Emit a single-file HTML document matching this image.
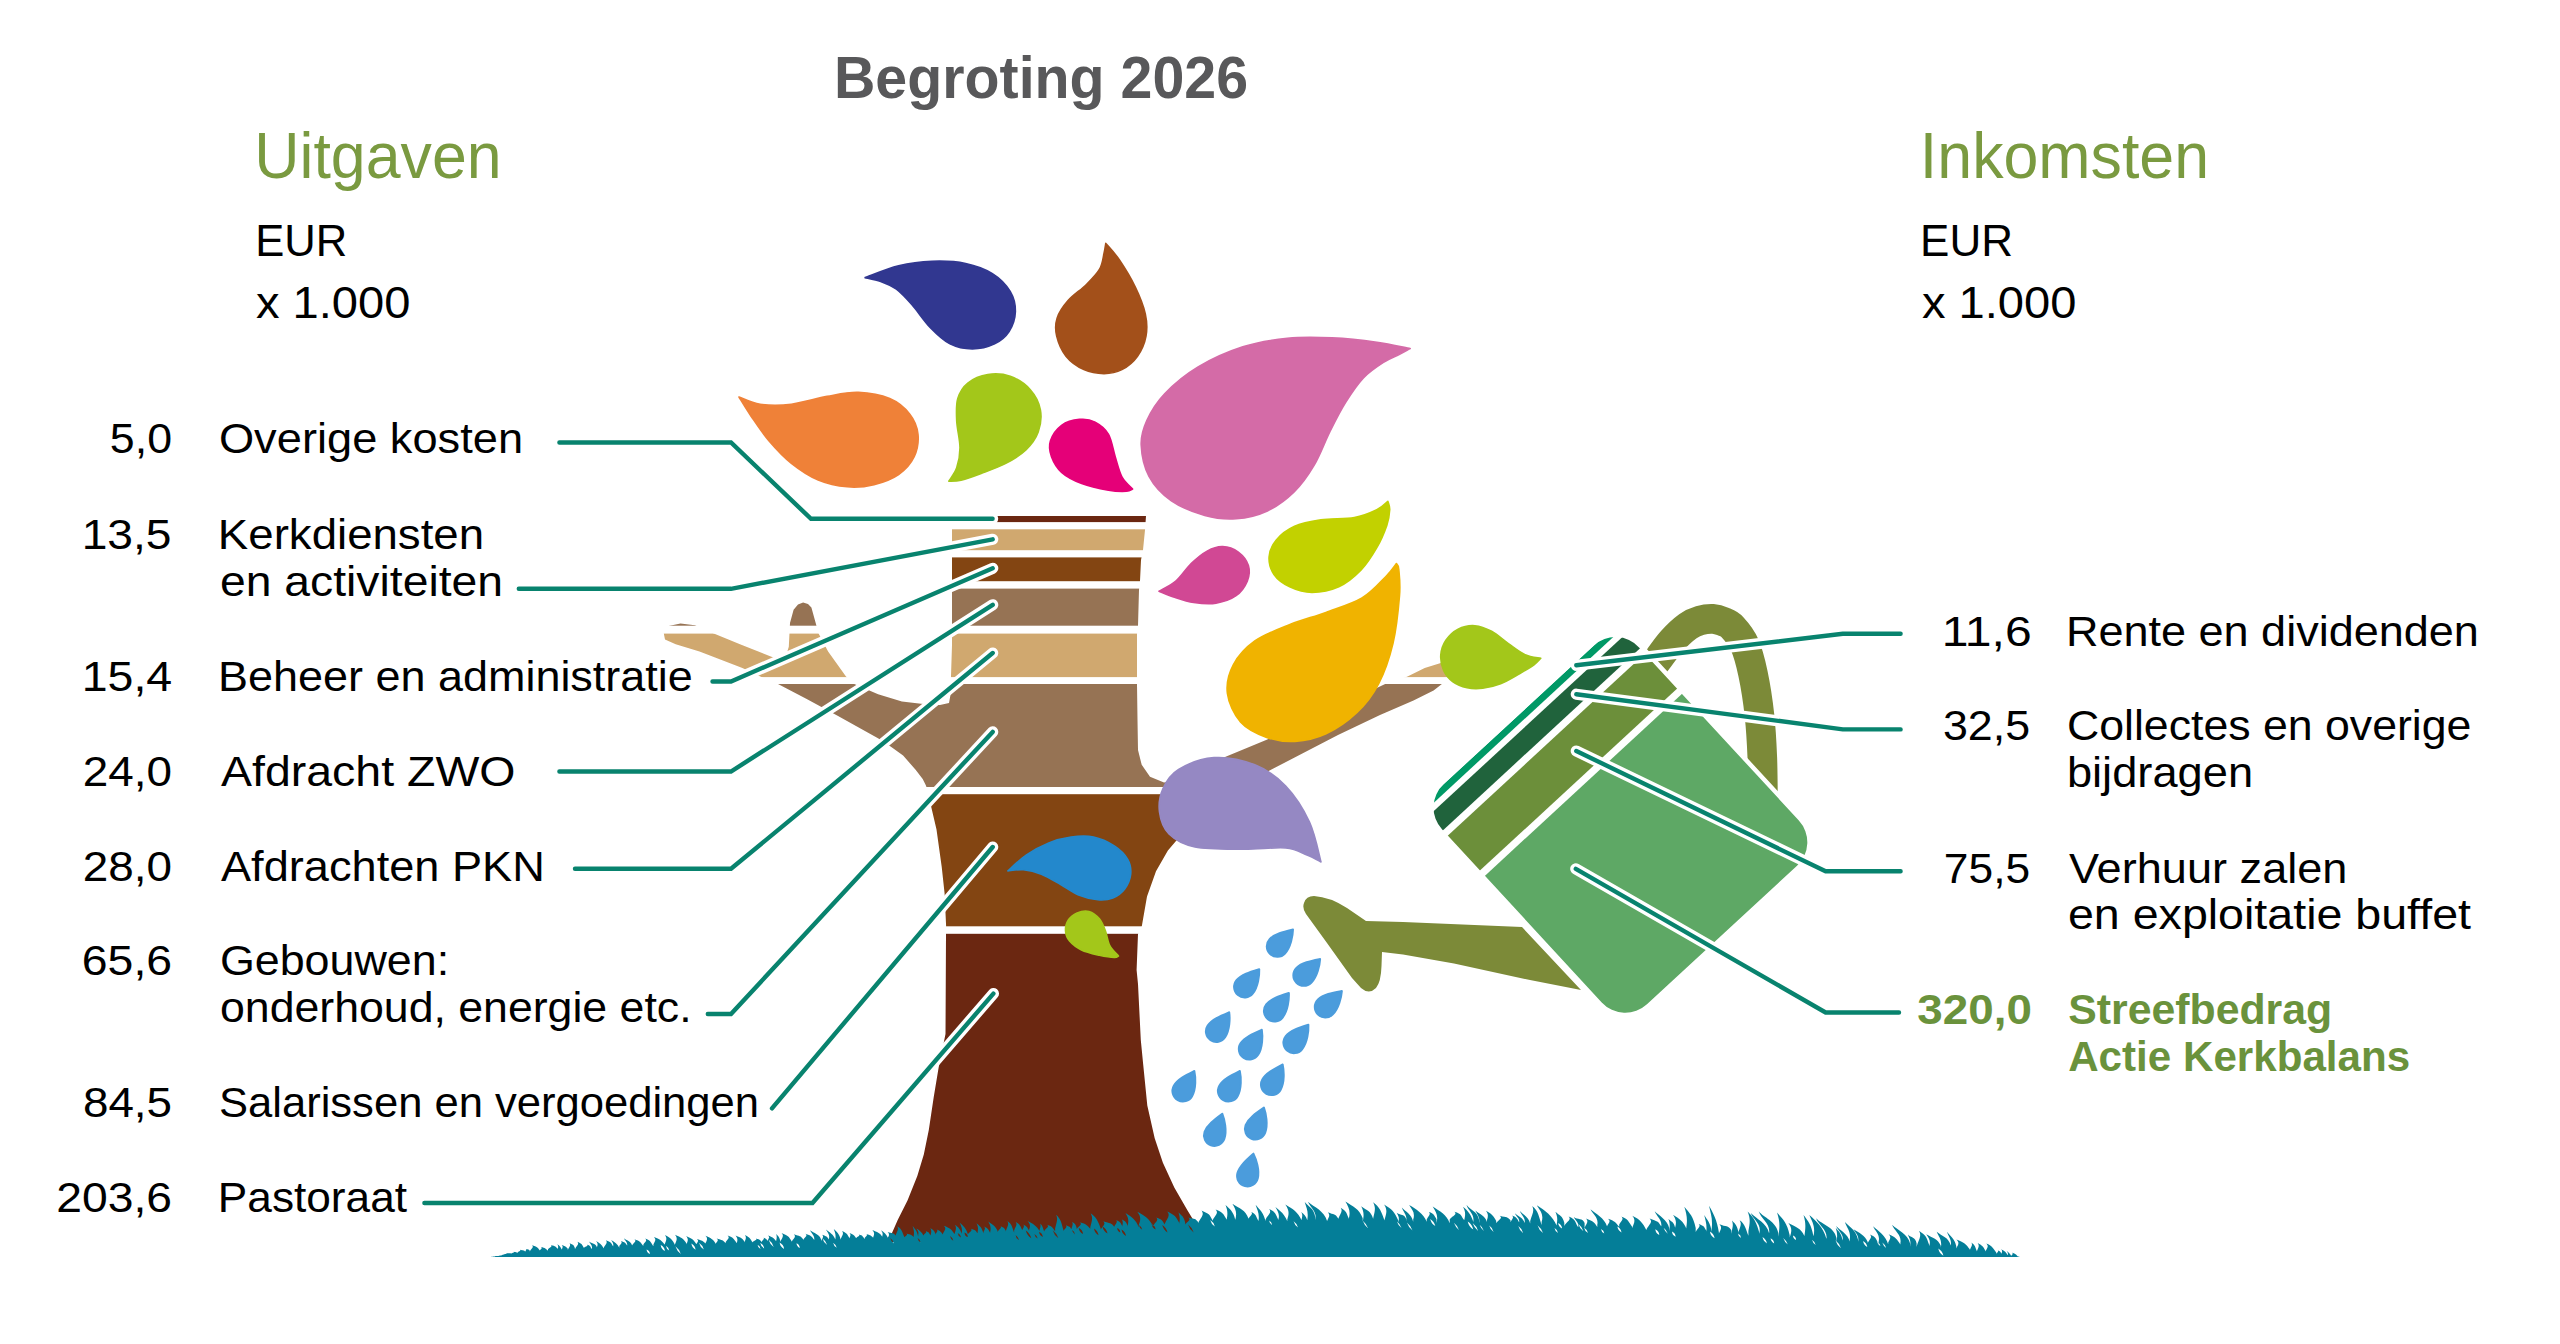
<!DOCTYPE html>
<html lang="nl"><head><meta charset="utf-8"><title>Begroting 2026</title>
<style>html,body{margin:0;padding:0;background:#fff}body{width:2560px;height:1344px;overflow:hidden}svg{display:block}text{font-family:"Liberation Sans",sans-serif}.t{font-size:42.5px;fill:#000}.b{font-weight:bold;fill:#6a923c}</style></head><body>
<svg width="2560" height="1344" viewBox="0 0 2560 1344">
<rect width="2560" height="1344" fill="#fff"/>
<defs><clipPath id="tr"><path d="M952,516L1146,516L1145,530L1143,550L1141,560L1140,581L1139,590L1138,626L1137,634L1137,684L1137.5,720L1138,750L1141.7,764.8L1150,776.7L1164,782.6L1195,776L1223.8,757.6L1266.7,739.8L1330,710L1385.7,683.8L1407,676.7L1424.7,668.1L1440.8,663.1L1452,670L1447,680L1433.6,690.5L1413.5,700.5L1380,715L1338,735L1266.7,772L1215,803L1190,826L1176,841L1167.9,850.4L1156,871.2L1147,896.5L1141.8,926.3L1138,934L1136.6,970L1138,984L1140.8,1040L1143.2,1064.6L1147.3,1105.5L1154.7,1138.2L1162.9,1162.8L1174.3,1187.4L1187.4,1210.3L1192.4,1218.5L1205,1242L884,1242L891.9,1233.2L897.7,1220L907.5,1200.4L917.3,1175.9L923.8,1154.6L928.8,1130L933.7,1097.3L938.6,1067.8L945.5,1034L946,934L946.1,926L944.6,893.5L941.7,866.7L936.5,829.5L931.3,807.2L929,794L925.7,785L922.7,779L915.6,769.7L903.1,755.6L890.6,746.5L878,738.3L837.6,715.7L806.7,699L778,684L761.4,677.1L742.4,668.1L699.5,651.4L675.7,644.3L665,639.5L663.8,633.6L666.2,626.5L680.5,623.6L694.8,625.2L713.8,633.6L740,644.3L773.3,657.4L785.2,658.6L788.8,646.7L790,622.9L793.6,609.8L798,604.5L803.1,602.6L808,604L811.4,607.4L818.6,633.6L828.1,651.4L846,676.4L854.3,684L878.1,694.3L901.9,701.4L921,703.8L940,705L949,703L951,692L951,676L952,645Z"/></clipPath></defs>
<g clip-path="url(#tr)">
<rect x="640" y="516" width="840" height="6.1" fill="#6b2711"/>
<rect x="640" y="529.3" width="840" height="20.9" fill="#d0a86f"/>
<rect x="640" y="557.4" width="840" height="23.8" fill="#834512"/>
<rect x="640" y="588.6" width="840" height="37.1" fill="#967354"/>
<rect x="640" y="633.6" width="840" height="43.5" fill="#d0a86f"/>
<rect x="640" y="684" width="840" height="103" fill="#967354"/>
<rect x="640" y="794.2" width="840" height="132.1" fill="#834512"/>
<rect x="640" y="933.8" width="840" height="310.2" fill="#6b2711"/>
</g>
<path d="M865.1,277.6C870.7,275.6 887.4,268.5 898.6,265.8C909.8,263.1 920.9,261.7 932.1,261.3C943.3,260.9 955.6,261.4 965.6,263.5C975.6,265.6 985,269 992.4,273.6C999.8,278.2 1006.4,285.1 1010.2,291.4C1014,297.7 1015.6,304.8 1015.4,311.5C1015.2,318.2 1012.6,326.2 1009.1,331.6C1005.6,337 1000.7,341 994.6,343.9C988.5,346.8 979.7,349 972.3,349C964.9,349 957.1,347.5 950,343.9C942.9,340.3 936.2,333.7 929.9,327.2C923.6,320.7 917.6,311.1 912,304.8C906.4,298.5 901.6,293.1 896.4,289.2C891.2,285.3 885.9,283.3 880.7,281.4C875.5,279.5 867.7,278.2 865.1,277.6Z" fill="#313790" stroke="#313790" stroke-width="1.6" stroke-linejoin="round"/>
<path d="M1105.8,243.4C1108.1,246.2 1114.7,252.9 1119.6,260.2C1124.5,267.5 1131,278.1 1135.3,287C1139.6,295.9 1143.5,305.6 1145.3,313.8C1147.1,322 1147.3,329 1146,336.1C1144.7,343.2 1141.5,350.6 1137.5,356.2C1133.5,361.8 1127.5,366.7 1121.9,369.6C1116.3,372.5 1110.3,373.6 1104,373.6C1097.7,373.6 1090.2,372.5 1083.9,369.6C1077.6,366.7 1070.5,361.8 1066,356.2C1061.5,350.6 1058.2,342.4 1056.7,336.1C1055.2,329.8 1055.2,324.1 1057.1,318.2C1059,312.2 1063.4,306 1068.3,300.4C1073.2,294.8 1081,289.9 1086.2,284.7C1091.4,279.5 1096.6,274.3 1099.6,269.1C1102.6,263.9 1103,257.8 1104,253.5C1105,249.2 1105.5,245.1 1105.8,243.4Z" fill="#a3501a" stroke="#a3501a" stroke-width="1.6" stroke-linejoin="round"/>
<path d="M739,397C742.5,398.2 751.5,403 760.2,404.2C768.9,405.4 780.2,405.5 791.4,404.2C802.6,402.9 816,398.4 827.2,396.4C838.4,394.4 848,392 858.4,392.4C868.8,392.8 881.1,395 889.7,398.6C898.3,402.2 905.1,408.2 909.8,414.2C914.5,420.1 917.3,427.2 918,434.3C918.7,441.4 917.4,450 914.2,456.7C911,463.4 905.3,469.9 898.6,474.5C891.9,479.1 882.5,482.6 874,484.6C865.5,486.7 856.6,487.6 847.3,486.8C838,486.1 827.5,484 818.2,480.1C808.9,476.2 799.6,469.9 791.4,463.4C783.2,456.9 775.8,448.8 769.1,441C762.4,433.2 756.3,423.8 751.3,416.5C746.3,409.2 741,400.2 739,397Z" fill="#ef8138" stroke="#ef8138" stroke-width="1.6" stroke-linejoin="round"/>
<path d="M948.8,481.2C950.1,479 954.8,473.4 956.7,467.8C958.6,462.2 960,455.5 960,447.7C960,439.9 957.1,429.1 956.7,420.9C956.3,412.7 955.9,404.9 957.8,398.6C959.6,392.3 962.8,387 967.8,383C972.8,379 980.8,375.6 987.9,374.5C995,373.4 1003.1,373.8 1010.2,376.3C1017.3,378.8 1025.3,384.1 1030.3,389.7C1035.3,395.3 1039.1,402.7 1040.4,409.8C1041.7,416.9 1040.6,425.4 1038.2,432.1C1035.8,438.8 1031.3,444.8 1025.9,450C1020.5,455.2 1013.2,459.5 1005.8,463.4C998.3,467.3 988.7,470.6 981.2,473.4C973.8,476.2 966.5,478.8 961.1,480.1C955.7,481.4 950.8,481 948.8,481.2Z" fill="#a3c71a" stroke="#a3c71a" stroke-width="1.6" stroke-linejoin="round"/>
<path d="M1132.6,489C1130.8,487 1124.8,482.2 1121.9,476.8C1119,471.4 1117.4,463.8 1115.2,456.7C1113,449.6 1111.8,440.1 1108.5,434.3C1105.2,428.5 1099.9,424.6 1095.1,422.1C1090.3,419.6 1085.1,418.8 1079.5,419.4C1073.9,419.9 1066.4,421.8 1061.6,425.4C1056.8,429 1052.1,435.8 1050.4,441C1048.7,446.2 1049.6,451.5 1051.5,456.7C1053.4,461.9 1056.6,467.8 1061.6,472.3C1066.6,476.8 1073.9,480.5 1081.7,483.5C1089.5,486.5 1101.1,488.9 1108.5,490.2C1115.9,491.5 1122.3,491.5 1126.3,491.3C1130.3,491.1 1131.5,489.4 1132.6,489Z" fill="#e50078" stroke="#e50078" stroke-width="1.6" stroke-linejoin="round"/>
<path d="M1410.2,348.6C1404.6,347.6 1389.8,344.1 1376.8,342.3C1363.8,340.5 1347,338.6 1332.1,337.9C1317.2,337.2 1302.3,336.8 1287.4,338.3C1272.5,339.8 1257.7,342 1242.8,346.8C1227.9,351.6 1211.1,359.1 1198.1,366.9C1185.1,374.7 1173.2,384.8 1164.7,393.7C1156.2,402.6 1150.7,411.9 1146.8,420.5C1142.9,429.1 1140.8,435.7 1141.2,445C1141.6,454.3 1144,467 1149,476.3C1154,485.6 1162.1,494.3 1171.4,500.8C1180.7,507.3 1194,512.4 1204.8,515.4C1215.6,518.4 1225.7,519.5 1236.1,518.7C1246.5,518 1257.7,515.4 1267.4,510.9C1277.1,506.4 1286.3,499.5 1294.1,491.9C1301.9,484.3 1308.2,475.2 1314.2,465.1C1320.2,455.1 1324.7,442 1329.9,431.6C1335.1,421.2 1339.9,411.5 1345.5,402.6C1351.1,393.7 1357.1,384.7 1363.4,378C1369.7,371.3 1377.5,366.3 1383.5,362.4C1389.5,358.5 1394.6,356.9 1399.1,354.6C1403.5,352.3 1408.3,349.6 1410.2,348.6Z" fill="#d46ba7" stroke="#d46ba7" stroke-width="1.6" stroke-linejoin="round"/>
<path d="M1387.9,501.3C1386.1,502.7 1382.4,507.1 1376.8,509.8C1371.2,512.5 1363.7,515.9 1354.4,517.6C1345.1,519.3 1331,518.3 1320.9,519.8C1310.9,521.3 1301.5,523.1 1294.1,526.5C1286.7,529.9 1280.5,534.9 1276.3,539.9C1272.1,544.9 1269.5,550.9 1269.1,556.7C1268.7,562.5 1270.6,569.5 1274,574.5C1277.4,579.5 1283.4,583.8 1289.7,586.8C1296,589.8 1303.8,592.4 1312,592.4C1320.2,592.4 1330.6,590.5 1338.8,586.8C1347,583.1 1354.8,576.5 1361.1,570C1367.4,563.5 1372.5,555.1 1376.8,547.7C1381.1,540.3 1384.6,531.7 1386.8,525.4C1389,519.1 1389.5,513.8 1389.7,509.8C1389.9,505.8 1388.2,502.7 1387.9,501.3Z" fill="#c2d100" stroke="#c2d100" stroke-width="1.6" stroke-linejoin="round"/>
<path d="M1159,591.3C1161.8,589.6 1170.4,585.9 1175.8,581.2C1181.2,576.6 1186.2,568.4 1191.4,563.4C1196.6,558.4 1201.9,553.9 1207.1,551.1C1212.3,548.3 1217.5,546.4 1222.7,546.6C1227.9,546.8 1234,549 1238.3,552.2C1242.6,555.4 1246.9,560.8 1248.4,565.6C1249.9,570.4 1249.3,576.2 1247.3,581.2C1245.2,586.2 1241.3,592.1 1236.1,595.7C1230.9,599.4 1223.1,602 1216,603.1C1208.9,604.2 1200.8,603.4 1193.7,602.4C1186.6,601.4 1179.4,598.8 1173.6,596.9C1167.8,595 1161.4,592.2 1159,591.3Z" fill="#d14894" stroke="#d14894" stroke-width="1.6" stroke-linejoin="round"/>
<path d="M1396.4,563.6C1394.6,565.8 1391.4,571 1385.7,576.7C1380,582.4 1372,592 1362,598C1352,604 1337.9,608 1326,612.4C1314.1,616.8 1302.4,619.5 1290.5,624.3C1278.6,629.1 1264.3,634.2 1254.8,641C1245.3,647.8 1237.9,656.1 1233.3,664.8C1228.7,673.5 1226.2,683.8 1227.4,693.3C1228.6,702.8 1234,714.6 1240.5,722C1247,729.4 1257.6,734.2 1266.7,737.4C1275.8,740.6 1285.1,742 1295,741.4C1304.9,740.8 1315.7,738.6 1326,733.8C1336.3,729 1348.2,720.7 1357,712.4C1365.8,704.1 1372.6,695.3 1378.6,683.8C1384.6,672.3 1389.5,658 1393,643.3C1396.5,628.6 1398.5,608 1399.5,595.7C1400.5,583.4 1399.3,574.9 1398.8,569.5C1398.3,564.1 1396.8,564.6 1396.4,563.6Z" fill="#f0b300" stroke="#f0b300" stroke-width="1.6" stroke-linejoin="round"/>
<path d="M1540.8,658.3C1538.2,657.7 1530.5,657.2 1525.1,654.7C1519.7,652.2 1514,647.5 1508.4,643.6C1502.8,639.7 1497.2,634.3 1491.6,631.3C1486,628.3 1480.5,626.1 1474.9,625.7C1469.3,625.3 1462.9,626.7 1458.1,629.1C1453.3,631.5 1448.8,635.9 1445.9,640.2C1443,644.5 1441.2,649.7 1440.8,654.7C1440.4,659.7 1441.6,665.9 1443.6,670.4C1445.6,674.9 1448.7,678.6 1452.6,681.5C1456.5,684.4 1462.1,686.6 1467.1,687.7C1472.1,688.8 1477.1,688.9 1482.7,688.2C1488.3,687.6 1494.5,686.2 1500.6,683.8C1506.7,681.4 1513.9,676.9 1519.5,673.7C1525.1,670.5 1530.5,667.4 1534,664.8C1537.5,662.2 1539.7,659.4 1540.8,658.3Z" fill="#a3c71a" stroke="#a3c71a" stroke-width="1.6" stroke-linejoin="round"/>
<path d="M1321,862C1319.1,855.3 1315.4,834.7 1309.5,822C1303.6,809.3 1294.8,795.5 1285.7,786C1276.6,776.5 1266.8,769.5 1254.8,764.8C1242.8,760.1 1226.7,756.8 1214,757.6C1201.3,758.4 1187.1,764.3 1178.6,769.5C1170.1,774.7 1166.2,781.5 1163,788.6C1159.8,795.7 1158.5,804.4 1159.5,812C1160.5,819.6 1163.1,828.2 1169,834C1174.9,839.8 1182.7,844.5 1195,847C1207.3,849.5 1227.9,849.1 1243,849.3C1258.1,849.5 1275,847 1285.7,848C1296.4,849 1301.1,852.7 1307,855C1312.9,857.3 1318.7,860.8 1321,862Z" fill="#9588c3" stroke="#9588c3" stroke-width="1.6" stroke-linejoin="round"/>
<path d="M1007.9,870.9C1011,868.2 1019.7,859.5 1026.5,854.8C1033.3,850.1 1041.4,845.9 1048.8,842.9C1056.2,839.9 1063.6,838 1071.1,837C1078.5,836 1086.3,835.5 1093.5,837C1100.7,838.5 1108.6,842.2 1114.3,845.9C1120,849.6 1125,854.6 1127.7,859.3C1130.4,864 1131.2,869.2 1130.7,874.2C1130.2,879.2 1127.7,885 1124.7,889C1121.7,893 1117.3,896.2 1112.8,898C1108.3,899.8 1103.6,900.3 1097.9,899.8C1092.2,899.3 1084.8,897.5 1078.6,895C1072.4,892.5 1066.9,888.1 1060.7,884.6C1054.5,881.1 1047.6,876.7 1041.4,874.2C1035.2,871.7 1029.1,870.2 1023.5,869.7C1017.9,869.2 1010.5,870.7 1007.9,870.9Z" fill="#2388cc" stroke="#2388cc" stroke-width="1.6" stroke-linejoin="round"/>
<path d="M1118.5,956C1117,954.3 1112,949.8 1109.8,945.6C1107.6,941.4 1107.1,935.2 1105.4,930.7C1103.7,926.2 1102.1,922 1099.4,918.8C1096.7,915.6 1092.7,912.4 1089,911.4C1085.3,910.4 1080.6,911.4 1077.1,912.9C1073.6,914.4 1070.1,917.3 1068.2,920.3C1066.3,923.3 1065.3,927.2 1065.5,930.7C1065.7,934.2 1066.9,937.9 1069.6,941.1C1072.3,944.3 1076.5,947.6 1081.5,950C1086.5,952.4 1093.9,954 1099.4,955.3C1104.9,956.5 1111.1,957.4 1114.3,957.5C1117.5,957.6 1117.8,956.2 1118.5,956Z" fill="#a3c71a" stroke="#a3c71a" stroke-width="1.6" stroke-linejoin="round"/>
<path d="M1648,672C1649.8,669.6 1655,663.1 1659,657.9C1663,652.7 1667.2,646.3 1672,641C1676.8,635.7 1683.2,629.7 1687.9,626.3C1692.6,622.9 1695.8,621.7 1700,620.5C1704.2,619.3 1709.2,618.7 1713,618.9C1716.8,619.1 1719.8,620.1 1723,621.5C1726.2,622.9 1728.9,623.3 1732.5,627.2C1736.1,631.1 1741.3,637.1 1744.7,644.9C1748.1,652.6 1750.5,661.9 1753,673.7C1755.5,685.5 1758,701.7 1759.5,715.6C1761,729.5 1761.7,742.5 1762.3,757.4C1762.9,772.3 1762.9,797.1 1763,805" fill="none" stroke="#7c8a38" stroke-width="29.6"/>
<path d="M1304,903 Q1306,896 1314,896 Q1330,897 1347,908 L1366,921 L1403,922 L1522,927 L1581,990 L1530,980 L1454,963.5 L1403,954.6 L1382,952 L1381.5,966 Q1381,982 1376,988 Q1369,995 1361,988 L1352,978 L1327,943 L1306,914 Q1302,908 1304,903Z" fill="#7c8a38"/>
<defs><clipPath id="can"><rect x="-134.1" y="-149.8" width="268.2" height="299.6" rx="32"/></clipPath></defs>
<g transform="translate(1620.4,824.9) rotate(-42.7)">
<rect x="-134.1" y="-149.8" width="268.2" height="299.6" rx="32" fill="#fff" stroke="#fff" stroke-width="9"/>
<g clip-path="url(#can)">
<rect x="-136.1" y="-149.8" width="272.2" height="6.9" fill="#009966"/>
<rect x="-136.1" y="-136.7" width="272.2" height="20.3" fill="#20633c"/>
<rect x="-136.1" y="-109.2" width="272.2" height="47.5" fill="#6c8f3a"/>
<rect x="-136.1" y="-54.5" width="272.2" height="206.3" fill="#5ea865"/>
</g></g>
<path transform="translate(1279,944.5) rotate(43)" d="M0,-20.5 C4,-16 10.5,-6 10.5,2.5 A10.5,10.5 0 1 1 -10.5,2.5 C-10.5,-5 -5,-13 0,-20.5Z" fill="#4b9cdc" stroke="#4b9cdc" stroke-width="2" stroke-linejoin="round"/>
<path transform="translate(1305.6,973.6) rotate(45)" d="M0,-20.5 C4,-16 10.5,-6 10.5,2.5 A10.5,10.5 0 1 1 -10.5,2.5 C-10.5,-5 -5,-13 0,-20.5Z" fill="#4b9cdc" stroke="#4b9cdc" stroke-width="2" stroke-linejoin="round"/>
<path transform="translate(1246.2,985) rotate(39.5)" d="M0,-20.5 C4,-16 10.5,-6 10.5,2.5 A10.5,10.5 0 1 1 -10.5,2.5 C-10.5,-5 -5,-13 0,-20.5Z" fill="#4b9cdc" stroke="#4b9cdc" stroke-width="2" stroke-linejoin="round"/>
<path transform="translate(1327.1,1005.3) rotate(46)" d="M0,-20.5 C4,-16 10.5,-6 10.5,2.5 A10.5,10.5 0 1 1 -10.5,2.5 C-10.5,-5 -5,-13 0,-20.5Z" fill="#4b9cdc" stroke="#4b9cdc" stroke-width="2" stroke-linejoin="round"/>
<path transform="translate(1276,1009) rotate(38.8)" d="M0,-20.5 C4,-16 10.5,-6 10.5,2.5 A10.5,10.5 0 1 1 -10.5,2.5 C-10.5,-5 -5,-13 0,-20.5Z" fill="#4b9cdc" stroke="#4b9cdc" stroke-width="2" stroke-linejoin="round"/>
<path transform="translate(1217.8,1029.3) rotate(33.8)" d="M0,-20.5 C4,-16 10.5,-6 10.5,2.5 A10.5,10.5 0 1 1 -10.5,2.5 C-10.5,-5 -5,-13 0,-20.5Z" fill="#4b9cdc" stroke="#4b9cdc" stroke-width="2" stroke-linejoin="round"/>
<path transform="translate(1295.5,1040.7) rotate(39)" d="M0,-20.5 C4,-16 10.5,-6 10.5,2.5 A10.5,10.5 0 1 1 -10.5,2.5 C-10.5,-5 -5,-13 0,-20.5Z" fill="#4b9cdc" stroke="#4b9cdc" stroke-width="2" stroke-linejoin="round"/>
<path transform="translate(1250.7,1047) rotate(32.9)" d="M0,-20.5 C4,-16 10.5,-6 10.5,2.5 A10.5,10.5 0 1 1 -10.5,2.5 C-10.5,-5 -5,-13 0,-20.5Z" fill="#4b9cdc" stroke="#4b9cdc" stroke-width="2" stroke-linejoin="round"/>
<path transform="translate(1272.7,1082.4) rotate(29)" d="M0,-20.5 C4,-16 10.5,-6 10.5,2.5 A10.5,10.5 0 1 1 -10.5,2.5 C-10.5,-5 -5,-13 0,-20.5Z" fill="#4b9cdc" stroke="#4b9cdc" stroke-width="2" stroke-linejoin="round"/>
<path transform="translate(1229.7,1088.8) rotate(29.6)" d="M0,-20.5 C4,-16 10.5,-6 10.5,2.5 A10.5,10.5 0 1 1 -10.5,2.5 C-10.5,-5 -5,-13 0,-20.5Z" fill="#4b9cdc" stroke="#4b9cdc" stroke-width="2" stroke-linejoin="round"/>
<path transform="translate(1184.2,1088.8) rotate(29.6)" d="M0,-20.5 C4,-16 10.5,-6 10.5,2.5 A10.5,10.5 0 1 1 -10.5,2.5 C-10.5,-5 -5,-13 0,-20.5Z" fill="#4b9cdc" stroke="#4b9cdc" stroke-width="2" stroke-linejoin="round"/>
<path transform="translate(1256.3,1126.7) rotate(21.8)" d="M0,-20.5 C4,-16 10.5,-6 10.5,2.5 A10.5,10.5 0 1 1 -10.5,2.5 C-10.5,-5 -5,-13 0,-20.5Z" fill="#4b9cdc" stroke="#4b9cdc" stroke-width="2" stroke-linejoin="round"/>
<path transform="translate(1215.3,1133) rotate(19.8)" d="M0,-20.5 C4,-16 10.5,-6 10.5,2.5 A10.5,10.5 0 1 1 -10.5,2.5 C-10.5,-5 -5,-13 0,-20.5Z" fill="#4b9cdc" stroke="#4b9cdc" stroke-width="2" stroke-linejoin="round"/>
<path transform="translate(1248.2,1173.5) rotate(14.7)" d="M0,-20.5 C4,-16 10.5,-6 10.5,2.5 A10.5,10.5 0 1 1 -10.5,2.5 C-10.5,-5 -5,-13 0,-20.5Z" fill="#4b9cdc" stroke="#4b9cdc" stroke-width="2" stroke-linejoin="round"/>
<path d="M490,1257L491,1256.9C491.8,1256.7 494.4,1256.6 493.1,1256.5C496,1256.6 494.9,1255.7 496.2,1256L496.2,1256.1C497.3,1255.9 501,1255.8 499.2,1255.6C503.1,1255.7 501.6,1254.5 503.4,1254.8L503.4,1254.6C504.5,1254 508.2,1253.7 506.3,1253.2C510.6,1253.6 509.2,1252.9 511.2,1253.6L511.2,1253.4C512.1,1252.7 515.2,1252.4 513.6,1251.8C517.1,1252.3 516,1252.2 517.6,1253.1L517.6,1252.2C518.8,1251.1 521.6,1250.7 519.6,1249.8C524,1250.5 523.5,1250.3 525.5,1251.6L525.5,1251C526.1,1250.1 526.9,1249.6 525.9,1248.9C528.2,1249.5 528.6,1249.2 529.7,1250.4L529.7,1251.6C531.2,1248.7 534.4,1247.4 531.9,1245.2C537.4,1247.1 537.2,1246.7 539.7,1250.3L539.7,1250.5C541,1248.9 542.9,1248.2 540.9,1247C545.4,1248 545.9,1248.7 548,1250.7L548,1249.3C549.4,1247.4 553.2,1246.6 550.7,1245.1C556.1,1246.4 555.3,1246.6 557.8,1248.9L557.8,1248.6C558.4,1246.6 558.3,1245.8 557.3,1244.3C559.5,1245.6 560.8,1247.3 561.8,1249.7L561.8,1249.3C562.7,1247.3 563.2,1246.4 561.7,1244.9C565,1246.2 566.3,1246.3 567.8,1248.7L567.8,1250C568.9,1247 571.3,1245.6 569.5,1243.3C573.4,1245.3 573.2,1244.2 574.9,1247.9L574.9,1249.3C576.3,1245.9 579.7,1244.4 577.4,1241.7C582.4,1244 581.7,1243.9 584,1248.1L584,1247.7C585.2,1246.4 588.9,1245.8 586.9,1244.8C591.3,1245.7 589.9,1247.3 591.9,1248.9L591.9,1248.9C592.7,1245.6 590.3,1244.1 589,1241.6C591.8,1243.8 595.8,1243.4 597,1247.5L597,1247C598,1244.3 597.7,1243.1 596.1,1241C599.6,1242.8 601.8,1244.7 603.4,1248L603.4,1248.4C604.8,1244.8 608.3,1243.1 605.9,1240.3C611.2,1242.7 610.6,1241.8 613,1246.2L613,1246.7C613.9,1243.7 612.7,1242.4 611.1,1240C614.5,1242 617.7,1244 619.3,1247.7L619.3,1246.1C620.4,1243.9 622.9,1242.9 620.9,1241.1C625.3,1242.6 625.2,1242.8 627.1,1245.5L627.1,1245.7C627.9,1242.4 625,1240.9 623.8,1238.3C626.5,1240.5 630.8,1241.2 632,1245.2L632,1245.6C633.7,1242.7 637.2,1241.4 634.3,1239.2C640.5,1241.1 640.5,1242.4 643.3,1245.9L643.3,1244.7C644.8,1242 647.7,1240.8 645.2,1238.6C650.8,1240.5 650.9,1242.8 653.4,1246.2L653.4,1244.4C655.1,1241.1 656.5,1239.6 653.8,1237.1C659.9,1239.3 661.7,1240.6 664.5,1244.6L664.5,1244.7C666.1,1240.3 667.5,1238.4 664.9,1235C670.6,1237.9 672.4,1239.5 675,1244.9L675,1244.3C676.7,1240 677.8,1238.1 674.9,1234.7C681.3,1237.6 683.6,1238.3 686.5,1243.6L686.5,1244.4C688,1240.6 688.6,1239 686.1,1236C691.6,1238.5 693.9,1239.7 696.4,1244.3L696.4,1244C697.8,1241.7 699.1,1240.7 696.8,1238.9C701.9,1240.4 703.3,1240.8 705.6,1243.6L705.6,1243.1C707.1,1239.8 707.9,1238.3 705.4,1235.8C710.9,1238 713.1,1239.4 715.6,1243.4L715.6,1243.9C717.1,1241.5 719.1,1240.4 716.6,1238.6C722.2,1240.2 723.2,1240.3 725.7,1243.2L725.7,1242.1C727.4,1239.2 730.3,1237.9 727.6,1235.6C733.7,1237.6 734.1,1239.7 736.8,1243.2L736.8,1243C737.9,1239.6 737.5,1238 735.6,1235.4C739.7,1237.6 742.4,1237.3 744.3,1241.5L744.3,1242.5C745.5,1239.2 746.9,1237.6 744.8,1235C749.3,1237.3 750.5,1238.5 752.6,1242.6L752.6,1241.9C754,1240.3 758.2,1239.7 755.8,1238.4C761,1239.5 759.7,1240.2 762,1242.1L762,1241.3C762.8,1239.7 764.9,1239 763.5,1237.7C766.6,1238.8 766.2,1238.8 767.6,1240.9L767.6,1240.4C768.9,1238.2 770.1,1237.3 768,1235.5C772.7,1237 774,1238.4 776.1,1241.1L776.1,1241.4C776.7,1238.1 777.1,1236.6 776.1,1234C778.4,1236.2 779.2,1236.7 780.3,1240.8L780.3,1241.9C782,1237.9 784.4,1236.2 781.6,1233.1C787.8,1235.7 788.8,1236.3 791.6,1241.2L791.6,1241.8C793.4,1238.4 796.7,1236.9 793.8,1234.2C800.2,1236.5 800.3,1235.2 803.1,1239.3L803.1,1239.9C804.8,1237.1 808.2,1235.9 805.4,1233.8C811.5,1235.6 811.4,1236.4 814.1,1239.7L814.1,1240.4C815.1,1235.8 811.8,1233.8 810.1,1230.2C813.9,1233.3 819.3,1233.8 821.1,1239.4L821.1,1241.1C822.3,1238.2 824.2,1236.9 822.2,1234.7C826.6,1236.6 827,1236 829,1239.6L829,1238.4C829.9,1234.3 827.5,1232.5 825.9,1229.4C829.4,1232.1 833.7,1234.4 835.3,1239.4L835.3,1239.5C836.1,1234.8 835.1,1232.7 833.8,1229C836.7,1232.2 839.2,1233.2 840.5,1239L840.5,1239.7C841.8,1235.7 844.3,1233.9 842.1,1230.9C847,1233.5 847.1,1233.3 849.3,1238.1L849.3,1238.5C850.3,1236 851.2,1234.8 849.5,1232.9C853.2,1234.6 854.3,1234.9 856,1238L856,1238.2C857.3,1236.5 860.8,1235.7 858.7,1234.4C863.5,1235.5 862.6,1236.8 864.8,1238.9L864.8,1237.7C866,1236.1 868.3,1235.3 866.2,1234C870.8,1235.1 871.1,1235.7 873.2,1237.7L873.2,1237.2C874.5,1234 874.6,1232.6 872.3,1230.1C877.3,1232.3 880,1232.9 882.3,1236.8L882.3,1236C883.1,1233.4 882.4,1232.2 881,1230.2C884.1,1231.9 886.5,1234.5 887.9,1237.7L887.9,1237.9C889.1,1235.3 889.6,1234.1 887.7,1232.1C891.9,1233.8 893.6,1232.4 895.5,1235.6L895.5,1235.8C896.8,1231.5 899.3,1229.5 897.1,1226.2C902,1229 902.1,1231.6 904.3,1236.9L904.3,1237.3C905.7,1235.5 908.6,1234.8 906.2,1233.4C911.4,1234.6 911.4,1234.8 913.7,1236.9L913.7,1236C914.4,1231.5 913.7,1229.5 912.6,1226C915,1229 917.1,1231.1 918.2,1236.6L918.2,1234.5C919,1231.9 917.7,1230.7 916.4,1228.6C919.2,1230.4 922.1,1232.2 923.4,1235.5L923.4,1235.4C924.5,1233.4 927.4,1232.6 925.6,1231.1C929.6,1232.4 928.8,1233.1 930.6,1235.5L930.6,1235.1C931.4,1231.9 931.6,1230.5 930.3,1228.1C933.2,1230.2 934.5,1230.7 935.8,1234.6L935.8,1233.7C936.9,1231.8 938.4,1231 936.6,1229.5C940.5,1230.8 941.2,1232.3 943,1234.6L943,1233.6C944.7,1230.1 946.7,1228.5 943.8,1225.7C950.2,1228.1 951.6,1229.5 954.5,1233.9L954.5,1234.3C955.6,1230 956.8,1228.1 955,1224.8C958.9,1227.7 959.9,1228.6 961.7,1233.8L961.7,1232.9C962.6,1228.2 961.1,1226.1 959.6,1222.4C962.9,1225.5 966.3,1228.1 967.8,1233.9L967.8,1234.3C969.3,1231.8 973.2,1230.7 970.8,1228.8C976.1,1230.5 975.2,1230.1 977.6,1233.2L977.6,1232C978.4,1228 977.9,1226.3 976.5,1223.2C979.5,1225.8 981.6,1227.2 983,1232.1L983,1233.4C984,1230.3 986,1228.9 984.2,1226.4C988.1,1228.5 988.3,1228.8 990.1,1232.7L990.1,1232.5C991.3,1227.6 990.3,1225.4 988.3,1221.6C992.7,1224.9 996,1226.2 998,1232.2L998,1231.2C999.1,1228.9 1002.3,1228 1000.4,1226.2C1004.6,1227.7 1003.7,1227.7 1005.7,1230.4L1005.7,1231.6C1006.9,1226.9 1009.5,1224.7 1007.3,1221C1012,1224.2 1012,1226.7 1014.1,1232.5L1014.1,1230.4C1015.3,1226.7 1017.7,1225 1015.7,1222.1C1020.1,1224.6 1020.2,1225.6 1022.2,1230.1L1022.2,1230.3C1023.2,1227.7 1024.9,1226.6 1023.2,1224.6C1027,1226.3 1027.4,1227.7 1029.1,1230.8L1029.1,1229.7C1030.6,1225.8 1030.1,1224.1 1027.5,1221.1C1033.2,1223.7 1036.9,1226.3 1039.5,1231L1039.5,1230.2C1040.2,1227.2 1041.1,1225.9 1040,1223.6C1042.6,1225.6 1043,1228.2 1044.2,1231.8L1044.2,1230.9C1045.8,1228.2 1049.8,1226.9 1047.1,1224.8C1053.1,1226.6 1052.4,1228 1055.1,1231.3L1055.1,1228.5C1056.4,1222.3 1058.3,1219.5 1056.1,1214.7C1060.8,1218.8 1061.5,1222.9 1063.6,1230.6L1063.6,1231C1064.8,1228.4 1067.7,1227.3 1065.8,1225.3C1070.1,1227 1069.5,1226.2 1071.4,1229.3L1071.4,1229C1072.2,1225.8 1073.4,1224.3 1072.1,1221.8C1074.9,1224 1075.3,1223.7 1076.6,1227.7L1076.6,1228.9C1078.6,1225.9 1083,1224.5 1079.6,1222.2C1087.1,1224.2 1086.9,1225.1 1090.3,1228.8L1090.3,1227C1091.9,1220.9 1093.2,1218.1 1090.6,1213.3C1096.3,1217.4 1098.1,1220.9 1100.7,1228.5L1100.7,1229.5C1102.7,1225.7 1106.4,1224.1 1103.1,1221.2C1110.5,1223.7 1110.8,1222.2 1114.2,1226.7L1114.2,1226.8C1115.4,1223.8 1118.1,1222.5 1116.1,1220.1C1120.5,1222.1 1120.1,1222 1122.1,1225.7L1122.1,1226.7C1122.9,1223.4 1123.2,1221.9 1121.8,1219.3C1124.8,1221.5 1126.1,1221.2 1127.4,1225.3L1127.4,1226.6C1129.1,1220.5 1128.3,1217.8 1125.5,1213.1C1131.7,1217.1 1135.9,1219.8 1138.7,1227.2L1138.7,1225.2C1140.9,1219.2 1140.9,1216.5 1137.3,1211.8C1145.2,1215.8 1149.5,1218.9 1153,1226.2L1153,1226.1C1154.8,1222.2 1159.2,1220.4 1156.2,1217.4C1162.7,1220 1161.8,1219.7 1164.7,1224.5L1164.7,1224C1166.9,1218.4 1170.8,1215.9 1167.2,1211.5C1175.1,1215.3 1175.6,1215.9 1179.2,1222.8L1179.2,1224.1C1180.1,1218.8 1179.9,1216.5 1178.4,1212.3C1181.7,1215.9 1183.7,1216.2 1185.2,1222.7L1185.2,1224.5C1187.1,1221.3 1191.6,1219.9 1188.3,1217.4C1195.5,1219.5 1194.9,1217.9 1198.1,1221.9L1198.1,1223.3C1200.3,1217.5 1205.1,1214.9 1201.4,1210.5C1209.5,1214.3 1209.1,1213.6 1212.8,1220.7L1212.8,1220.1C1214.9,1215.3 1219.1,1213.2 1215.6,1209.5C1223.2,1212.7 1223.2,1213.6 1226.6,1219.5L1226.6,1220.1C1227.9,1213.3 1227.6,1210.3 1225.5,1205.1C1230.2,1209.6 1233.1,1211.2 1235.2,1219.5L1235.2,1220.1C1237.2,1212.7 1235.8,1209.5 1232.4,1203.8C1239.8,1208.7 1245.3,1209.7 1248.6,1218.7L1248.6,1218.5C1250.1,1215.6 1253.6,1214.2 1251.1,1212C1256.6,1213.9 1256,1217.3 1258.5,1220.9L1258.5,1220.7C1259.6,1213.6 1257.4,1210.4 1255.6,1204.8C1259.5,1209.6 1263.7,1212.6 1265.5,1221.3L1265.5,1219.8C1267.4,1215 1272.4,1212.8 1269.1,1209C1276.3,1212.3 1275.3,1213.9 1278.5,1219.9L1278.5,1219.1C1279.8,1213.6 1277.6,1211.2 1275.4,1206.9C1280.2,1210.6 1285.1,1214.7 1287.3,1221.3L1287.3,1219.4C1289.5,1212.7 1288.8,1209.8 1285.3,1204.5C1293.1,1209 1298,1212.1 1301.6,1220.3L1301.6,1219.4C1302.4,1216 1302.7,1214.6 1301.2,1212C1304.4,1214.2 1305.9,1216.2 1307.3,1220.2L1307.3,1220C1308.6,1211.9 1306.7,1208.3 1304.7,1202C1309.1,1207.4 1313.4,1207.5 1315.4,1217.4L1315.4,1220C1317.2,1211.8 1310.9,1208.1 1307.9,1201.7C1314.4,1207.2 1324.2,1210.8 1327.1,1220.9L1327.1,1221.1C1328.8,1217.1 1330.6,1215.3 1327.8,1212.2C1333.9,1214.9 1335.4,1213.5 1338.2,1218.4L1338.2,1219.1C1339.8,1214 1343.3,1211.8 1340.7,1207.8C1346.4,1211.2 1346.1,1212.1 1348.7,1218.3L1348.7,1219.2C1350.8,1211.2 1348.9,1207.7 1345.4,1201.5C1353.1,1206.8 1359.2,1208.5 1362.7,1218.3L1362.7,1221.6C1364.2,1214.7 1363.8,1211.7 1361.2,1206.3C1367,1210.9 1370.6,1210.4 1373.2,1218.9L1373.2,1218.2C1374.9,1211 1376,1207.8 1373.1,1202.3C1379.4,1207 1381.7,1211.8 1384.5,1220.6L1384.5,1219.9C1386.6,1213 1387.5,1209.9 1384.1,1204.5C1391.7,1209.1 1394.9,1212.1 1398.3,1220.6L1398.3,1222.5C1399.5,1218.1 1398.7,1216.1 1396.7,1212.7C1401.1,1215.6 1404.3,1213.8 1406.3,1219.2L1406.3,1221.4C1407.4,1215.2 1403.5,1212.5 1401.8,1207.6C1405.6,1211.8 1411.5,1214.1 1413.2,1221.7L1413.2,1219.5C1415.3,1213 1412.4,1210.1 1409.1,1205.1C1416.5,1209.4 1423.4,1213.8 1426.7,1221.8L1426.7,1219.4C1428.2,1216 1431.3,1214.5 1428.8,1211.8C1434.2,1214.1 1434.1,1215.1 1436.5,1219.3L1436.5,1222.9C1438.5,1215.5 1436,1212.2 1432.7,1206.5C1439.9,1211.4 1446.4,1214.2 1449.7,1223.2L1449.7,1219.4C1451.9,1215.9 1458,1214.4 1454.3,1211.8C1462.4,1214 1460.7,1216 1464.3,1220.2L1464.3,1219.8C1465.7,1213.9 1465.3,1211.3 1463,1206.7C1468,1210.6 1471.1,1214.8 1473.4,1222L1473.4,1220.7C1474.2,1213.6 1467.9,1210.4 1466.5,1204.8C1469.6,1209.6 1477.6,1211.3 1479.1,1220L1479.1,1222.9C1480.3,1217.3 1477.3,1214.8 1475.3,1210.4C1479.6,1214.1 1485,1215.2 1487,1222.1L1487,1220C1488.4,1215.8 1488.2,1213.9 1485.9,1210.7C1490.9,1213.5 1493.9,1215.8 1496.2,1221L1496.2,1223.3C1498.3,1219.9 1503.3,1218.4 1499.7,1215.8C1507.6,1218.1 1506.9,1216.2 1510.5,1220.3L1510.5,1222.2C1511.8,1219.3 1514.3,1217.9 1512.2,1215.6C1516.9,1217.6 1517,1218.6 1519.1,1222.3L1519.1,1222.5C1520,1218.3 1516.2,1216.5 1514.8,1213.2C1517.8,1216 1523.3,1217.7 1524.7,1222.9L1524.7,1222.7C1525.5,1217.4 1521.2,1215.1 1519.8,1211C1522.9,1214.5 1528.8,1217.2 1530.2,1223.6L1530.2,1221.1C1531.9,1214.3 1534.9,1211.3 1532.1,1206.1C1538.4,1210.6 1538.8,1216.7 1541.6,1224.9L1541.6,1222.1C1543.9,1214.5 1540.5,1211.1 1536.8,1205.2C1545,1210.3 1552.9,1216.3 1556.6,1225.6L1556.6,1225C1557.8,1219.1 1557.3,1216.4 1555.4,1211.8C1559.6,1215.8 1562.4,1215.5 1564.3,1222.8L1564.3,1226.1C1566.4,1221.8 1572,1219.9 1568.6,1216.5C1576.2,1219.4 1574.7,1222 1578.2,1227.3L1578.2,1227.2C1579.2,1222.6 1575.4,1220.5 1573.8,1216.9C1577.3,1220 1583,1217.4 1584.6,1223.1L1584.6,1227.7C1586.5,1223.5 1589,1221.7 1585.9,1218.5C1592.9,1221.3 1594.1,1221.8 1597.3,1226.9L1597.3,1224.6C1598.8,1217.7 1593,1214.7 1590.5,1209.3C1595.9,1213.9 1604.6,1218.2 1607.1,1226.6L1607.1,1225.9C1608.9,1222.6 1611,1221.2 1608,1218.7C1614.6,1220.8 1616.1,1222.8 1619.2,1226.8L1619.2,1224.5C1621.1,1220.9 1624.4,1219.3 1621.2,1216.5C1628.3,1218.9 1628.8,1222.3 1632.1,1226.7L1632.1,1228.3C1634.2,1222.7 1635.9,1220.2 1632.3,1215.8C1640.2,1219.6 1642.8,1223.1 1646.3,1230L1646.3,1230C1648.6,1224.8 1653.4,1222.4 1649.6,1218.4C1657.8,1221.9 1657.5,1220 1661.2,1226.3L1661.2,1226.6C1662.4,1219.7 1656.7,1216.7 1654.7,1211.3C1659.1,1215.9 1667.2,1219.6 1669.2,1228L1669.2,1231.1C1670.1,1225.6 1669.9,1223.1 1668.4,1218.8C1671.6,1222.5 1673.6,1221 1675.1,1227.8L1675.1,1227.7C1676.8,1221.8 1675.8,1219.2 1673,1214.7C1679.2,1218.6 1683.5,1221.3 1686.3,1228.5L1686.3,1227.8C1687.7,1218.3 1686.6,1214.1 1684.3,1206.7C1689.5,1213 1693.4,1216.3 1695.7,1227.9L1695.7,1231.9C1697.3,1228.4 1701.4,1226.8 1698.7,1224.1C1704.6,1226.4 1703.7,1226.5 1706.3,1230.8L1706.3,1232C1707.1,1224.3 1705.6,1220.9 1704.2,1214.9C1707.2,1220 1710.4,1222.3 1711.7,1231.7L1711.7,1228.7C1712.8,1218.4 1710.8,1213.8 1709,1205.7C1712.9,1212.6 1717.1,1219.9 1718.9,1232.5L1718.9,1233.4C1720.8,1229.3 1722.4,1227.5 1719.4,1224.2C1726.1,1227 1728.1,1225.1 1731.2,1230.1L1731.2,1233.7C1732.3,1227.8 1733.8,1225.1 1731.9,1220.5C1736.1,1224.5 1736.8,1225.5 1738.7,1232.8L1738.7,1231.3C1740.2,1226.4 1742,1224.2 1739.6,1220.3C1744.9,1223.6 1746,1229.7 1748.4,1235.8L1748.4,1231.1C1750.1,1222.3 1750.4,1218.3 1747.6,1211.5C1753.8,1217.4 1756.8,1223 1759.6,1233.8L1759.6,1231.7C1761,1223.3 1753.1,1219.6 1750.8,1213C1756,1218.7 1766.7,1222.9 1769.1,1233.2L1769.1,1233.3C1770.5,1223.4 1761,1219 1758.7,1211.3C1763.7,1217.9 1776,1220.9 1778.3,1233L1778.3,1236.8C1780,1225.9 1779.8,1221 1777,1212.5C1783.3,1219.8 1786.8,1221.9 1789.7,1235.3L1789.7,1237.4C1791.9,1231 1792.1,1228.1 1788.4,1223.1C1796.5,1227.4 1800.7,1228.2 1804.4,1236L1804.4,1236.3C1805.8,1226.8 1805.8,1222.5 1803.5,1215.1C1808.5,1221.5 1811.2,1224.7 1813.5,1236.4L1813.5,1236.1C1815.5,1226.6 1812.5,1222.4 1809.3,1215.1C1816.4,1221.4 1823.2,1227.1 1826.4,1238.7L1826.4,1239C1827.9,1229.7 1818.6,1225.5 1816.1,1218.3C1821.6,1224.5 1834,1226.6 1836.5,1238L1836.5,1242.3C1837.5,1235.7 1837.3,1232.9 1835.7,1227.8C1839.1,1232.1 1841.1,1232.7 1842.7,1240.6L1842.7,1239.9C1843.7,1233.6 1837.9,1230.9 1836.1,1226C1840,1230.2 1848,1234 1849.8,1241.6L1849.8,1239.3C1851,1231.5 1847,1228 1844.9,1221.9C1849.5,1227.1 1856,1229.8 1858,1239.4L1858,1241.8C1859.5,1236.2 1856,1233.7 1853.5,1229.3C1858.9,1233 1865.3,1235.2 1867.7,1242.1L1867.7,1243C1869.4,1239.2 1872.8,1237.5 1870,1234.5C1876.1,1237 1876,1239.1 1878.7,1243.8L1878.7,1241.2C1880.2,1234.5 1875.4,1231.5 1873,1226.3C1878.2,1230.8 1885.8,1236 1888.2,1244.2L1888.2,1242.5C1890,1238.8 1891.6,1237.2 1888.6,1234.3C1895.3,1236.8 1897.4,1239.9 1900.4,1244.4L1900.4,1243C1901.9,1234.8 1894.4,1231.2 1892,1224.8C1897.4,1230.2 1907.8,1233.8 1910.3,1243.9L1910.3,1246.8C1911.2,1241.3 1909.5,1238.8 1907.9,1234.6C1911.4,1238.2 1915,1236.6 1916.6,1243.3L1916.6,1247C1918.5,1239.7 1922.1,1236.4 1919,1230.7C1925.9,1235.6 1926.1,1235.9 1929.2,1244.9L1929.2,1246.6C1930.9,1241 1929.2,1238.6 1926.3,1234.3C1932.7,1238 1937.9,1239 1940.8,1245.7L1940.8,1247.8C1942.3,1240.5 1939.2,1237.3 1936.7,1231.7C1942.2,1236.5 1948.3,1236.7 1950.9,1245.6L1950.9,1245.4C1951.7,1239.3 1948.3,1236.5 1947,1231.8C1950,1235.9 1954.9,1239 1956.3,1246.5L1956.3,1248.5C1958.3,1244.4 1959.8,1242.6 1956.4,1239.4C1963.8,1242.1 1966.4,1244.3 1969.8,1249.3L1969.8,1250.3C1970.9,1246.8 1973.1,1245.2 1971.3,1242.4C1975.1,1244.8 1975,1246.7 1976.8,1251L1976.8,1251.5C1978.1,1247.6 1979.9,1245.9 1977.7,1242.9C1982.6,1245.5 1983.6,1246.9 1985.8,1251.6L1985.8,1250.8C1987.4,1247.5 1988.9,1246.1 1986.3,1243.5C1992,1245.7 1993.7,1248.8 1996.3,1252.8L1996.3,1254C1997,1252.5 1999,1251.8 1997.8,1250.6C2000.4,1251.6 1999.9,1251.4 2001.2,1253.3L2001.2,1254.1C2002.2,1251.9 2002.7,1250.9 2001,1249.2C2004.8,1250.7 2006.2,1252.5 2007.9,1255.2L2007.9,1255.3C2008.4,1253.4 2007.5,1252.5 2006.7,1251C2008.5,1252.3 2010.4,1253.7 2011.2,1256.1L2011.2,1255.8C2012.1,1254.4 2013.6,1253.8 2012,1252.8C2015.5,1253.7 2016,1254.6 2017.5,1256.2L2020,1257ZM646.6,1249.4Q646.8,1252.8 649.9,1254Q649.8,1250.7 646.6,1249.4ZM660.7,1245Q661.1,1249.2 664.9,1251Q664.5,1246.8 660.7,1245ZM665.9,1245.8Q666.3,1249 669.2,1250.5Q668.8,1247.3 665.9,1245.8ZM675.4,1246.2Q676.9,1250.9 680.8,1253.9Q679.3,1249.2 675.4,1246.2ZM691.4,1243.6Q692,1247.8 695.6,1249.7Q695,1245.6 691.4,1243.6ZM699,1242.8Q700.1,1247.1 703.8,1249.6Q702.7,1245.3 699,1242.8ZM757.6,1244.7Q757.8,1247.7 760.5,1248.9Q760.3,1245.9 757.6,1244.7ZM760.2,1242.7Q760.8,1246.5 764.2,1248.4Q763.6,1244.6 760.2,1242.7ZM768.5,1239.5Q769.9,1244.1 773.7,1247Q772.3,1242.4 768.5,1239.5ZM779.6,1242.6Q780.2,1246.9 784.1,1249Q783.5,1244.6 779.6,1242.6ZM796.5,1243.2Q796.7,1246.5 799.8,1247.9Q799.6,1244.6 796.5,1243.2ZM822.5,1238.4Q823.6,1242.6 827.2,1245Q826.1,1240.8 822.5,1238.4ZM833.1,1242.7Q833.8,1246.1 836.7,1247.8Q836,1244.5 833.1,1242.7ZM890.2,1238.1Q891,1241.5 894,1243.5Q893.1,1240.1 890.2,1238.1ZM917.6,1238Q918,1240.9 920.5,1242.3Q920.1,1239.4 917.6,1238ZM950,1236Q950.5,1239.1 953.3,1240.7Q952.8,1237.6 950,1236ZM957.7,1233Q958,1236.2 961,1237.6Q960.7,1234.3 957.7,1233ZM964.5,1232.4Q964.5,1235.9 967.8,1237.1Q967.8,1233.5 964.5,1232.4ZM1015.6,1235.3Q1016.1,1238.5 1018.9,1240.1Q1018.4,1236.9 1015.6,1235.3ZM1025.8,1230.4Q1027.1,1235.4 1031.3,1238.3Q1030,1233.3 1025.8,1230.4ZM1034.4,1233.9Q1035,1237 1037.7,1238.6Q1037.2,1235.5 1034.4,1233.9ZM1039.1,1231.7Q1039.4,1235.4 1042.8,1237Q1042.4,1233.3 1039.1,1231.7ZM1052.7,1230.2Q1054.2,1235.2 1058.4,1238.3Q1056.8,1233.3 1052.7,1230.2ZM1072,1230.1Q1072.6,1232.9 1075,1234.4Q1074.5,1231.5 1072,1230.1ZM1078.7,1227.7Q1079.2,1232 1083.1,1234Q1082.5,1229.7 1078.7,1227.7ZM1093.9,1228.6Q1094.8,1233 1098.6,1235.3Q1097.7,1230.9 1093.9,1228.6ZM1102.4,1226.2Q1103.4,1231 1107.5,1233.5Q1106.5,1228.8 1102.4,1226.2ZM1117.2,1228Q1117.3,1231.2 1120.3,1232.4Q1120.2,1229.2 1117.2,1228ZM1121.5,1229.5Q1122.1,1233.8 1126,1235.9Q1125.4,1231.6 1121.5,1229.5ZM1138.9,1225.1Q1139.4,1228.2 1142.2,1229.8Q1141.7,1226.7 1138.9,1225.1ZM1151.7,1224.1Q1152,1228 1155.6,1229.6Q1155.2,1225.7 1151.7,1224.1ZM1162.3,1225Q1163.4,1229.8 1167.5,1232.5Q1166.4,1227.7 1162.3,1225ZM1188.1,1224.5Q1189.5,1229.4 1193.7,1232.5Q1192.2,1227.6 1188.1,1224.5ZM1210.2,1220Q1211.2,1224.1 1214.8,1226.4Q1213.8,1222.3 1210.2,1220ZM1269.1,1220.6Q1269.4,1223.5 1272,1224.8Q1271.7,1221.9 1269.1,1220.6ZM1293.6,1221.3Q1294.6,1225.2 1298,1227.5Q1296.9,1223.6 1293.6,1221.3ZM1362.8,1220.8Q1364.4,1225.4 1368.2,1228.6Q1366.5,1223.9 1362.8,1220.8ZM1396.9,1221.6Q1398.2,1225.6 1401.5,1228.1Q1400.3,1224.1 1396.9,1221.6ZM1406.9,1222.6Q1408.5,1227.4 1412.5,1230.6Q1410.8,1225.8 1406.9,1222.6ZM1430.2,1218.9Q1431.3,1223.6 1435.3,1226.1Q1434.2,1221.5 1430.2,1218.9ZM1453.9,1222.8Q1455.4,1227 1458.9,1229.9Q1457.4,1225.6 1453.9,1222.8ZM1467.7,1221.4Q1468.8,1226.6 1473.3,1229.5Q1472.2,1224.3 1467.7,1221.4ZM1472.6,1223.1Q1474.2,1227.9 1478.1,1231Q1476.6,1226.2 1472.6,1223.1ZM1479.6,1224.7Q1480.8,1228.4 1483.9,1230.9Q1482.7,1227.1 1479.6,1224.7ZM1489.2,1225.6Q1490.2,1229.6 1493.6,1231.9Q1492.6,1227.9 1489.2,1225.6ZM1518.3,1226Q1519.4,1230.4 1523.1,1232.9Q1522,1228.6 1518.3,1226ZM1537.5,1225.2Q1539,1230 1543,1233.1Q1541.4,1228.3 1537.5,1225.2ZM1554.5,1228.1Q1555,1231.5 1558,1233.1Q1557.5,1229.8 1554.5,1228.1ZM1558.2,1222.9Q1558.5,1226.8 1562.1,1228.5Q1561.8,1224.6 1558.2,1222.9ZM1578.4,1224.1Q1579.7,1228.6 1583.4,1231.3Q1582.1,1226.9 1578.4,1224.1ZM1584,1227.4Q1584.8,1231.1 1588,1233.1Q1587.2,1229.4 1584,1227.4ZM1601,1229Q1601.4,1232.2 1604.3,1233.6Q1603.9,1230.4 1601,1229ZM1617.3,1226.6Q1618,1230.6 1621.5,1232.5Q1620.9,1228.5 1617.3,1226.6ZM1655.3,1229.2Q1655.6,1233.2 1659.3,1234.9Q1658.9,1230.9 1655.3,1229.2ZM1663.6,1227.7Q1664.8,1231.4 1667.8,1233.7Q1666.7,1230 1663.6,1227.7ZM1672,1231.6Q1672.2,1235.3 1675.6,1236.8Q1675.4,1233.1 1672,1231.6ZM1709.9,1231.5Q1710.6,1236 1714.6,1238.2Q1713.8,1233.7 1709.9,1231.5ZM1738,1233.6Q1738.3,1236.7 1741.1,1238Q1740.8,1234.9 1738,1233.6ZM1762.5,1237.1Q1763.3,1241.3 1766.9,1243.4Q1766.1,1239.3 1762.5,1237.1ZM1770.6,1238.3Q1771,1241.9 1774.2,1243.5Q1773.8,1239.9 1770.6,1238.3ZM1783.2,1238.1Q1784.5,1242 1787.8,1244.6Q1786.4,1240.7 1783.2,1238.1ZM1793,1235.6Q1793.1,1238.8 1796.1,1240Q1796,1236.7 1793,1235.6ZM1812,1239.8Q1812.9,1243.2 1815.7,1245.1Q1814.9,1241.8 1812,1239.8ZM1835.4,1240.2Q1837,1245.1 1841,1248.3Q1839.5,1243.4 1835.4,1240.2ZM1863.1,1241Q1863.7,1245.1 1867.3,1247Q1866.7,1243 1863.1,1241ZM1877,1241.5Q1877.7,1244.6 1880.4,1246.3Q1879.7,1243.2 1877,1241.5ZM1882.3,1242.5Q1883.3,1245.9 1886.2,1248Q1885.2,1244.6 1882.3,1242.5ZM1938.3,1248.6Q1939.2,1253.3 1943.4,1255.8Q1942.4,1251.1 1938.3,1248.6Z" fill="#047e98" fill-rule="evenodd"/>
<path d="M559.4,442.5L731,442.5L811,518.8L992.6,518.8" fill="none" stroke="#fff" stroke-width="11.2" stroke-linecap="round" stroke-linejoin="round"/>
<path d="M518.8,588.8L731,588.8L992.7,539.3" fill="none" stroke="#fff" stroke-width="11.2" stroke-linecap="round" stroke-linejoin="round"/>
<path d="M712.5,681.5L731,681.5L992.7,568.3" fill="none" stroke="#fff" stroke-width="11.2" stroke-linecap="round" stroke-linejoin="round"/>
<path d="M559.4,771.5L731,771.5L992.7,604.8" fill="none" stroke="#fff" stroke-width="11.2" stroke-linecap="round" stroke-linejoin="round"/>
<path d="M575,868.8L731,868.8L992.7,653" fill="none" stroke="#fff" stroke-width="11.2" stroke-linecap="round" stroke-linejoin="round"/>
<path d="M707.8,1014L731,1014L992.7,731.9" fill="none" stroke="#fff" stroke-width="11.2" stroke-linecap="round" stroke-linejoin="round"/>
<path d="M772,1108.4L992.7,847" fill="none" stroke="#fff" stroke-width="11.2" stroke-linecap="round" stroke-linejoin="round"/>
<path d="M424.4,1203L812.5,1203L993.4,993.6" fill="none" stroke="#fff" stroke-width="11.2" stroke-linecap="round" stroke-linejoin="round"/>
<path d="M1900.6,633.8L1842.8,633.8L1576.3,665.3" fill="none" stroke="#fff" stroke-width="11.2" stroke-linecap="round" stroke-linejoin="round"/>
<path d="M1900.6,729.4L1842.8,729.4L1576.3,694.2" fill="none" stroke="#fff" stroke-width="11.2" stroke-linecap="round" stroke-linejoin="round"/>
<path d="M1900.6,871.3L1825.6,871.3L1576.3,751" fill="none" stroke="#fff" stroke-width="11.2" stroke-linecap="round" stroke-linejoin="round"/>
<path d="M1899,1012.5L1825.6,1012.5L1575.8,868.8" fill="none" stroke="#fff" stroke-width="11.2" stroke-linecap="round" stroke-linejoin="round"/>
<path d="M559.4,442.5L731,442.5L811,518.8L992.6,518.8" fill="none" stroke="#08836e" stroke-width="4.4" stroke-linecap="round" stroke-linejoin="miter"/>
<path d="M518.8,588.8L731,588.8L992.7,539.3" fill="none" stroke="#08836e" stroke-width="4.4" stroke-linecap="round" stroke-linejoin="miter"/>
<path d="M712.5,681.5L731,681.5L992.7,568.3" fill="none" stroke="#08836e" stroke-width="4.4" stroke-linecap="round" stroke-linejoin="miter"/>
<path d="M559.4,771.5L731,771.5L992.7,604.8" fill="none" stroke="#08836e" stroke-width="4.4" stroke-linecap="round" stroke-linejoin="miter"/>
<path d="M575,868.8L731,868.8L992.7,653" fill="none" stroke="#08836e" stroke-width="4.4" stroke-linecap="round" stroke-linejoin="miter"/>
<path d="M707.8,1014L731,1014L992.7,731.9" fill="none" stroke="#08836e" stroke-width="4.4" stroke-linecap="round" stroke-linejoin="miter"/>
<path d="M772,1108.4L992.7,847" fill="none" stroke="#08836e" stroke-width="4.4" stroke-linecap="round" stroke-linejoin="miter"/>
<path d="M424.4,1203L812.5,1203L993.4,993.6" fill="none" stroke="#08836e" stroke-width="4.4" stroke-linecap="round" stroke-linejoin="miter"/>
<path d="M1900.6,633.8L1842.8,633.8L1576.3,665.3" fill="none" stroke="#08836e" stroke-width="4.4" stroke-linecap="round" stroke-linejoin="miter"/>
<path d="M1900.6,729.4L1842.8,729.4L1576.3,694.2" fill="none" stroke="#08836e" stroke-width="4.4" stroke-linecap="round" stroke-linejoin="miter"/>
<path d="M1900.6,871.3L1825.6,871.3L1576.3,751" fill="none" stroke="#08836e" stroke-width="4.4" stroke-linecap="round" stroke-linejoin="miter"/>
<path d="M1899,1012.5L1825.6,1012.5L1575.8,868.8" fill="none" stroke="#08836e" stroke-width="4.4" stroke-linecap="round" stroke-linejoin="miter"/>
<text x="833.94" y="97.8" class="t" style="font-size:60px;fill:#58585a;font-weight:bold;" textLength="414.09" lengthAdjust="spacingAndGlyphs">Begroting 2026</text>
<text x="254.25" y="177.5" class="t" style="font-size:65px;fill:#7a9a40;" textLength="247.38" lengthAdjust="spacingAndGlyphs">Uitgaven</text>
<text x="255.19" y="255.6" class="t" style="font-size:44.5px;" textLength="92.03" lengthAdjust="spacingAndGlyphs">EUR</text>
<text x="255.98" y="318.3" class="t" style="font-size:44.5px;" textLength="154.47" lengthAdjust="spacingAndGlyphs">x 1.000</text>
<text x="1919.83" y="177.5" class="t" style="font-size:65px;fill:#7a9a40;" textLength="289.30" lengthAdjust="spacingAndGlyphs">Inkomsten</text>
<text x="1920.09" y="255.6" class="t" style="font-size:44.5px;" textLength="92.89" lengthAdjust="spacingAndGlyphs">EUR</text>
<text x="1921.98" y="318.3" class="t" style="font-size:44.5px;" textLength="154.47" lengthAdjust="spacingAndGlyphs">x 1.000</text>
<text x="109.87" y="453.4" class="t" textLength="62.20" lengthAdjust="spacingAndGlyphs">5,0</text>
<text x="218.96" y="453.4" class="t" textLength="304.11" lengthAdjust="spacingAndGlyphs">Overige kosten</text>
<text x="81.66" y="548.5" class="t" textLength="89.91" lengthAdjust="spacingAndGlyphs">13,5</text>
<text x="217.89" y="548.5" class="t" textLength="266.19" lengthAdjust="spacingAndGlyphs">Kerkdiensten</text>
<text x="219.96" y="595.8" class="t" textLength="283.09" lengthAdjust="spacingAndGlyphs">en activiteiten</text>
<text x="81.69" y="691" class="t" textLength="90.46" lengthAdjust="spacingAndGlyphs">15,4</text>
<text x="217.95" y="691" class="t" textLength="474.89" lengthAdjust="spacingAndGlyphs">Beheer en administratie</text>
<text x="82.84" y="786" class="t" textLength="89.26" lengthAdjust="spacingAndGlyphs">24,0</text>
<text x="220.99" y="786" class="t" textLength="294.55" lengthAdjust="spacingAndGlyphs">Afdracht ZWO</text>
<text x="82.84" y="880.6" class="t" textLength="89.26" lengthAdjust="spacingAndGlyphs">28,0</text>
<text x="220.98" y="880.6" class="t" textLength="323.88" lengthAdjust="spacingAndGlyphs">Afdrachten PKN</text>
<text x="81.81" y="975.2" class="t" textLength="90.31" lengthAdjust="spacingAndGlyphs">65,6</text>
<text x="219.91" y="975.2" class="t" textLength="229.24" lengthAdjust="spacingAndGlyphs">Gebouwen:</text>
<text x="219.97" y="1022.3" class="t" textLength="471.59" lengthAdjust="spacingAndGlyphs">onderhoud, energie etc.</text>
<text x="82.90" y="1117.3" class="t" textLength="89.20" lengthAdjust="spacingAndGlyphs">84,5</text>
<text x="218.97" y="1117.3" class="t" textLength="540.07" lengthAdjust="spacingAndGlyphs">Salarissen en vergoedingen</text>
<text x="56.31" y="1211.5" class="t" textLength="115.77" lengthAdjust="spacingAndGlyphs">203,6</text>
<text x="217.89" y="1211.5" class="t" textLength="189.14" lengthAdjust="spacingAndGlyphs">Pastoraat</text>
<text x="1941.65" y="645.6" class="t" textLength="89.99" lengthAdjust="spacingAndGlyphs">11,6</text>
<text x="2065.93" y="645.6" class="t" textLength="412.94" lengthAdjust="spacingAndGlyphs">Rente en dividenden</text>
<text x="1942.90" y="740" class="t" textLength="87.20" lengthAdjust="spacingAndGlyphs">32,5</text>
<text x="2066.96" y="740" class="t" textLength="404.48" lengthAdjust="spacingAndGlyphs">Collectes en overige</text>
<text x="2066.90" y="786.5" class="t" textLength="186.21" lengthAdjust="spacingAndGlyphs">bijdragen</text>
<text x="1943.83" y="882.5" class="t" textLength="86.27" lengthAdjust="spacingAndGlyphs">75,5</text>
<text x="2068.98" y="882.5" class="t" textLength="278.48" lengthAdjust="spacingAndGlyphs">Verhuur zalen</text>
<text x="2067.98" y="928.8" class="t" textLength="403.02" lengthAdjust="spacingAndGlyphs">en exploitatie buffet</text>
<text x="1917.37" y="1024.4" class="t b" style="font-weight:bold;" textLength="114.55" lengthAdjust="spacingAndGlyphs">320,0</text>
<text x="2068.18" y="1024.4" class="t b" style="font-weight:bold;" textLength="264.06" lengthAdjust="spacingAndGlyphs">Streefbedrag</text>
<text x="2068.19" y="1071.3" class="t b" style="font-weight:bold;" textLength="342.02" lengthAdjust="spacingAndGlyphs">Actie Kerkbalans</text>
</svg></body></html>
